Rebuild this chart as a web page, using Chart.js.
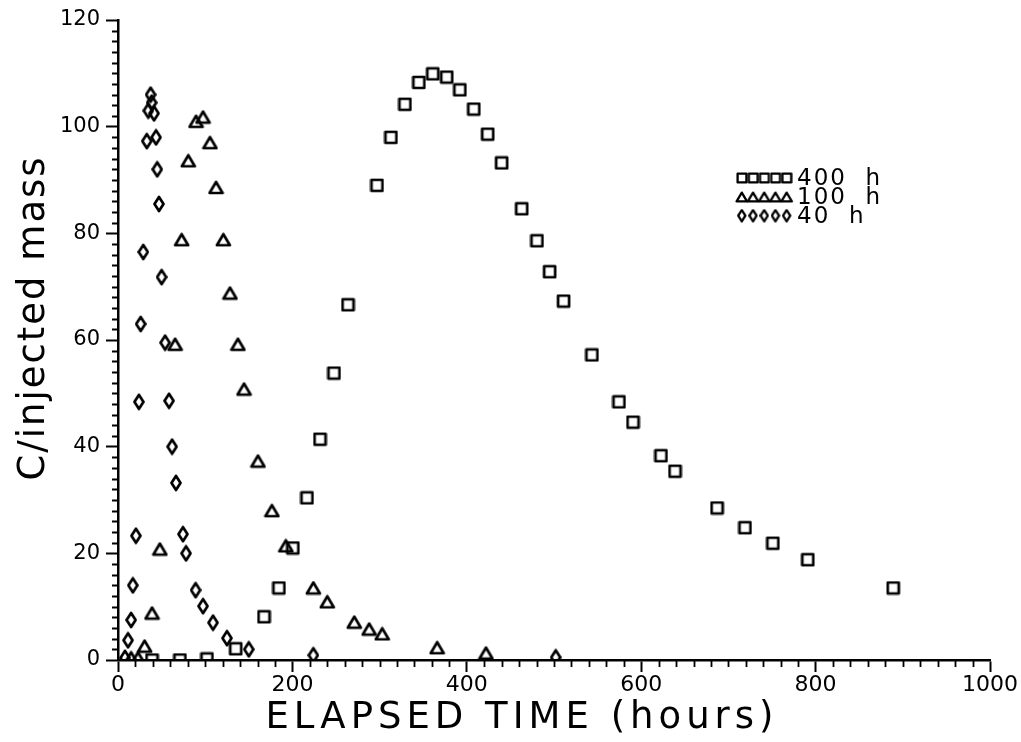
<!DOCTYPE html>
<html>
<head>
<meta charset="utf-8">
<script src="https://cdn.jsdelivr.net/npm/chart.js@4.4.0/dist/chart.umd.min.js"></script>
<style>
  html, body { margin: 0; padding: 0; background: #fff; }
  #wrap { width: 1021px; height: 742px; }
</style>
</head>
<body>
<div id="wrap"><canvas id="chart" width="1021" height="742"></canvas></div>
<script>
// Series labels
const seriesLabels = ['400  h', '100  h', '40  h'];

// 400 h injection (squares)
const x400 = [39, 71, 102, 135, 167.5, 184.5, 200.5, 216.7, 231.7, 247.7, 263.8, 297, 313, 329, 345, 361, 377, 392, 408, 424, 440, 463, 480.5, 495, 511, 543.5, 574.5, 590.6, 622.7, 638.8, 687, 719, 751, 791, 889];
const y400 = [0, 0, 0.2, 2.1, 8.1, 13.5, 21, 30.4, 41.4, 53.8, 66.6, 89, 98, 104.2, 108.3, 109.9, 109.3, 106.9, 103.3, 98.6, 93.2, 84.6, 78.6, 72.8, 67.3, 57.2, 48.4, 44.6, 38.3, 35.4, 28.5, 24.8, 21.9, 18.8, 13.5];

// 100 h injection (triangles)
const x100 = [15, 23, 30.5, 39, 48, 65.5, 73, 80.6, 89.5, 97.5, 105.5, 112.4, 120.8, 128.4, 137.5, 144.5, 160.5, 176.5, 192.5, 224, 240, 271, 288, 303, 366, 422];
const y100 = [0.4, 0.4, 2.6, 8.8, 20.8, 59.2, 78.8, 93.6, 101, 101.8, 97, 88.6, 78.8, 68.8, 59.2, 50.8, 37.3, 28, 21.4, 13.5, 10.9, 7.1, 5.8, 4.9, 2.3, 1.3];

// 40 h injection (diamonds)
const x40 = [8, 11.5, 15, 17, 20.5, 24, 26, 29, 33, 34.7, 37.4, 38.6, 41.3, 43.6, 45, 47, 50, 54, 58.5, 62, 66.5, 74.5, 78, 89, 97.5, 109, 125, 150, 224, 502];
const y40 = [0.4, 3.7, 7.5, 14, 23.3, 48.4, 63, 76.5, 97.3, 103, 106, 104.5, 102.5, 98, 92, 85.5, 71.8, 59.5, 48.6, 40, 33.2, 23.6, 20, 13.1, 10.1, 7, 4.1, 2, 0.9, 0.5];

// Axis ticks and titles
const xTicks = [0, 200, 400, 600, 800, 1000];
const yTicks = [0, 20, 40, 60, 80, 100, 120];
const xTitle = 'ELAPSED TIME (hours)';
const yTitle = 'C/injected mass';

const FONT = '"DejaVu Sans", "Liberation Sans", sans-serif';

// marker images (outlined, black)
function makeMarker(kind, k) {
    const c = document.createElement('canvas');
    const ctx = c.getContext('2d');
    let w, h;
    if (kind === 'square') { w = 15 * k; h = 15 * k; }
    else if (kind === 'triangle') { w = 17 * k; h = 15 * k; }
    else { w = 12 * k; h = 18 * k; }
    c.width = Math.ceil(w);
    c.height = Math.ceil(h);
    ctx.strokeStyle = '#000';
    ctx.lineWidth = 2.7 * Math.max(k, 0.85);
    ctx.lineJoin = 'round';
    ctx.beginPath();
    if (kind === 'square') {
        ctx.rect(2 * k, 2 * k, 11 * k, 11 * k);
    } else if (kind === 'triangle') {
        ctx.moveTo(8.5 * k, 2 * k);
        ctx.lineTo(15 * k, 13 * k);
        ctx.lineTo(2 * k, 13 * k);
        ctx.closePath();
    } else {
        ctx.moveTo(6 * k, 2 * k);
        ctx.lineTo(10.5 * k, 9 * k);
        ctx.lineTo(6 * k, 16 * k);
        ctx.lineTo(1.5 * k, 9 * k);
        ctx.closePath();
    }
    ctx.stroke();
    return c;
}

const kinds = ['square', 'triangle', 'diamond'];
const markers = kinds.map(k => makeMarker(k, 1));
const legendMarkers = kinds.map(k => makeMarker(k, 0.8));

const toPoints = (xs, ys) => xs.map((x, i) => ({ x: x, y: ys[i] }));

// minor tick marks, axis titles and legend drawn on top
const decorPlugin = {
    id: 'decor',
    afterDraw(chart) {
        const ctx = chart.ctx;
        const xs = chart.scales.x, ys = chart.scales.y;
        const area = chart.chartArea;
        ctx.save();
        ctx.strokeStyle = '#000';
        ctx.lineWidth = 1.8;
        ctx.beginPath();
        for (let v = 0; v <= 1000; v += 20) {
            if (v % 200 === 0) continue;
            const px = Math.round(xs.getPixelForValue(v)) + 0.5;
            ctx.moveTo(px, area.bottom);
            ctx.lineTo(px, area.bottom + 7);
        }
        for (let v = 0; v <= 120; v += 2) {
            if (v % 20 === 0) continue;
            const py = Math.round(ys.getPixelForValue(v)) + 0.5;
            ctx.moveTo(area.left, py);
            ctx.lineTo(area.left - 6, py);
        }
        ctx.stroke();

        ctx.fillStyle = '#000';

        // axis titles
        ctx.font = '37px ' + FONT;
        ctx.textAlign = 'center';
        ctx.textBaseline = 'alphabetic';
        ctx.letterSpacing = '5px';
        ctx.fillText(xTitle, 522, 728);
        ctx.save();
        ctx.translate(44, 318);
        ctx.rotate(-Math.PI / 2);
        ctx.letterSpacing = '2px';
        ctx.fillText(yTitle, 0, 0);
        ctx.restore();

        // legend
        ctx.font = '23px ' + FONT;
        ctx.letterSpacing = '2px';
        ctx.textAlign = 'left';
        ctx.textBaseline = 'middle';
        chart.data.datasets.forEach((ds, i) => {
            const rowY = 178 + i * 19;
            const img = legendMarkers[i];
            for (let j = 0; j < 5; j++) {
                const cx = 742 + j * 11.2;
                ctx.drawImage(img, cx - img.width / 2, rowY - img.height / 2);
            }
            ctx.fillText(ds.label, 797, rowY + 1);
        });
        ctx.restore();
    }
};

new Chart(document.getElementById('chart'), {
    type: 'scatter',
    data: {
        datasets: [
            { label: seriesLabels[0], data: toPoints(x400, y400), pointStyle: markers[0], pointRadius: 7 },
            { label: seriesLabels[1], data: toPoints(x100, y100), pointStyle: markers[1], pointRadius: 7 },
            { label: seriesLabels[2], data: toPoints(x40, y40), pointStyle: markers[2], pointRadius: 7 }
        ]
    },
    options: {
        responsive: false,
        animation: false,
        layout: { padding: { top: 20, right: 31, left: 0, bottom: 0 } },
        plugins: {
            legend: { display: false },
            tooltip: { enabled: false }
        },
        scales: {
            x: {
                type: 'linear',
                min: 0,
                max: 1000,
                afterBuildTicks: s => { s.ticks = xTicks.map(v => ({ value: v })); },
                afterFit: s => { s.height = 82; },
                border: { display: true, color: '#000', width: 2.5 },
                grid: { display: true, drawOnChartArea: false, drawTicks: true, tickLength: 12, tickColor: '#000', tickWidth: 2, color: '#000' },
                ticks: { color: '#000', font: { family: FONT, size: 22 }, padding: 0, maxRotation: 0, callback: v => String(v) }
            },
            y: {
                type: 'linear',
                min: 0,
                max: 120,
                afterBuildTicks: s => { s.ticks = yTicks.map(v => ({ value: v })); },
                afterFit: s => { s.width = 118; },
                border: { display: true, color: '#000', width: 2.5 },
                grid: { display: true, drawOnChartArea: false, drawTicks: true, tickLength: 12, tickColor: '#000', tickWidth: 2, color: '#000' },
                ticks: { color: '#000', font: { family: FONT, size: 21 }, padding: 6, callback: v => String(v) }
            }
        }
    },
    plugins: [decorPlugin]
});
</script>
</body>
</html>
